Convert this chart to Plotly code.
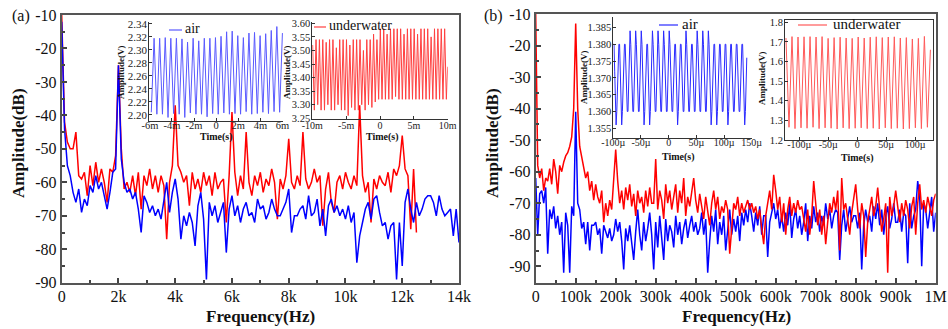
import plotly.graph_objects as go

W, H = 948, 329
FONT = "Liberation Serif"

# ---------------- Panel (a): spectra, 100 Hz bins ----------------
A_STEP_HZ = 100
A_UNDERWATER_DB = [
    -10, -42, -48, -50, -50, -45, -58, -59, -57, -64,
    -55, -61, -54, -60, -56, -60, -66, -56, -57, -52,
    -25, -50, -62, -60, -63, -58, -64, -57, -68, -58,
    -61, -56, -62, -58, -63, -58, -61, -77, -60, -55,
    -37, -55, -57, -60, -58, -67, -57, -62, -59, -63,
    -57, -61, -58, -64, -57, -62, -60, -59, -72, -58,
    -39, -57, -64, -58, -62, -45, -60, -64, -58, -61,
    -57, -63, -59, -61, -56, -60, -71, -59, -62, -58,
    -47, -60, -62, -58, -61, -45, -59, -62, -60, -56,
    -60, -58, -73, -62, -57, -66, -69, -60, -58, -62,
    -57, -60, -62, -58, -61, -37, -58, -63, -60, -72,
    -59, -62, -58, -60, -61, -57, -63, -56, -58, -55,
    -46, -56, -58, -74, -56, -75,
]
A_AIR_DB = [
    -12, -44, -55, -58, -63, -66, -62, -69, -65, -67,
    -61, -63, -58, -62, -60, -64, -68, -63, -57, -56,
    -25, -53, -60, -63, -62, -65, -63, -68, -75, -64,
    -66, -69, -67, -70, -68, -71, -66, -60, -69, -63,
    -59, -65, -77, -70, -73, -69, -72, -79, -67, -63,
    -71, -89, -66, -70, -67, -72, -69, -66, -81, -68,
    -64, -70, -67, -72, -68, -66, -70, -69, -72, -65,
    -68, -67, -71, -69, -65, -68, -70, -70, -68, -66,
    -62, -75, -70, -70, -68, -67, -71, -64, -70, -69,
    -65, -73, -68, -76, -67, -65, -69, -67, -70, -68,
    -71, -67, -72, -69, -84, -76, -72, -68, -66, -71,
    -65, -64, -69, -73, -72, -77, -73, -72, -89, -72,
    -85, -66, -62, -68, -72, -66, -70, -68, -65, -64,
    -64, -66, -70, -64, -68, -70, -69, -68, -76, -68, -78,
]
A_XTICKS = [0, 2000, 4000, 6000, 8000, 10000, 12000, 14000]
A_XTICKTEXT = ["0", "2k", "4k", "6k", "8k", "10k", "12k", "14k"]
A_YTICKS = [-10, -20, -30, -40, -50, -60, -70, -80, -90]

# ---------------- Panel (b): spectra, 5 kHz bins ----------------
B_STEP_HZ = 5000
B_UNDERWATER_DB = [
    -10, -58, -62, -59, -66, -62, -63, -59, -64, -56,
    -60, -67, -58, -60, -57, -55, -54, -52, -49, -40,
    -13, -40, -52, -55, -58, -62, -60, -66, -63, -69,
    -64, -68, -70, -66, -76, -70, -74, -69, -72, -63,
    -53, -63, -70, -66, -72, -65, -69, -64, -71, -67,
    -74, -66, -70, -68, -73, -66, -71, -65, -70, -70,
    -56, -72, -66, -69, -75, -64, -70, -66, -72, -68,
    -64, -73, -66, -70, -62, -74, -68, -71, -66, -62,
    -69, -73, -67, -71, -75, -68, -72, -77, -70, -66,
    -72, -68, -75, -71, -73, -69, -72, -86, -78, -70,
    -72, -68, -74, -70, -73, -71, -69, -72, -70, -73,
    -71, -75, -72, -78, -83, -74, -70, -66, -72, -61,
    -66, -72, -68, -76, -70, -80, -72, -68, -74, -70,
    -73, -69, -72, -71, -75, -79, -72, -80, -74, -63,
    -70, -77, -72, -80, -74, -83, -76, -70, -73, -68,
    -72, -66, -85, -62, -72, -70, -75, -80, -73, -68,
    -64, -72, -78, -70, -74, -87, -76, -72, -68, -74,
    -71, -65, -72, -79, -75, -70, -92, -68, -74, -71,
    -66, -72, -76, -70, -74, -69, -72, -78, -71, -68,
    -80, -70, -64, -72, -69, -73, -68, -71, -74, -69, -67,
]
B_AIR_DB = [
    -62, -80, -67, -66, -70, -65, -86, -72, -75, -71,
    -78, -74, -80, -76, -92, -73, -77, -92, -71, -74,
    -41, -70, -72, -78, -76, -83, -76, -85, -77, -77,
    -76, -80, -78, -86, -77, -79, -81, -78, -82, -80,
    -75, -79, -76, -82, -91, -78, -82, -77, -83, -88,
    -79, -72, -80, -85, -76, -82, -78, -73, -80, -91,
    -76, -84, -74, -80, -88, -75, -82, -77, -79, -84,
    -74, -80, -76, -83, -78, -75, -81, -77, -74, -79,
    -76, -80, -78, -73, -80, -75, -92, -82, -74, -79,
    -72, -83, -76, -80, -74, -85, -77, -72, -80, -75,
    -79, -74, -82, -73, -77, -72, -76, -70, -74, -79,
    -73, -77, -71, -80, -74, -74, -87, -76, -73, -70,
    -75, -72, -78, -74, -79, -73, -77, -70, -81, -75,
    -72, -78, -74, -80, -76, -70, -82, -74, -78, -71,
    -76, -73, -79, -74, -77, -70, -75, -72, -78, -74,
    -72, -73, -88, -77, -72, -79, -75, -71, -76, -74,
    -74, -78, -73, -91, -77, -72, -76, -74, -79, -71,
    -75, -70, -77, -72, -80, -74, -71, -78, -75, -70,
    -76, -76, -72, -79, -73, -74, -89, -70, -78, -74,
    -72, -63, -68, -90, -70, -72, -78, -72, -68, -79, -73,
]
B_XTICKS = [0, 100e3, 200e3, 300e3, 400e3, 500e3, 600e3, 700e3, 800e3, 900e3, 1e6]
B_XTICKTEXT = ["0", "100k", "200k", "300k", "400k", "500k", "600k", "700k", "800k", "900k", "1M"]
B_YTICKS = [-10, -20, -30, -40, -50, -60, -70, -80, -90]

# ---------------- Inset waveforms (turning points) ----------------
# (a) air: trough/peak pairs, start -5.87 ms, half period 0.2525 ms
A_AIR_T0, A_AIR_HALF = -5.87e-3, 0.2525e-3
A_AIR_TROUGHS = [2.204, 2.201, 2.201, 2.196, 2.202, 2.201, 2.196, 2.203, 2.201, 2.201, 2.197, 2.202,
                 2.201, 2.203, 2.201, 2.202, 2.201, 2.205, 2.201, 2.202, 2.204, 2.202, 2.205, 2.204]
A_AIR_PEAKS = [2.318, 2.318, 2.319, 2.318, 2.318, 2.317, 2.312, 2.318, 2.314, 2.318, 2.318, 2.319,
               2.321, 2.328, 2.329, 2.322, 2.319, 2.326, 2.327, 2.322, 2.325, 2.330, 2.336, 2.326]
# (a) underwater: peak/trough pairs, start -9.95 ms, half period 0.25 ms
A_UW_T0, A_UW_HALF = -9.95e-3, 0.25e-3
A_UW_PEAKS = [3.52, 3.54, 3.54, 3.54, 3.53, 3.54, 3.54, 3.51, 3.54, 3.54, 3.54, 3.52, 3.54, 3.54,
              3.54, 3.50, 3.54, 3.54, 3.56, 3.54, 3.58, 3.58, 3.56, 3.58, 3.58, 3.58, 3.58, 3.56,
              3.58, 3.58, 3.58, 3.56, 3.58, 3.58, 3.58, 3.55, 3.58, 3.58, 3.58, 3.58]
A_UW_TROUGHS = [3.28, 3.30, 3.28, 3.28, 3.30, 3.28, 3.28, 3.30, 3.28, 3.28, 3.26, 3.29, 3.28, 3.28,
                3.30, 3.28, 3.30, 3.29, 3.31, 3.32, 3.32, 3.32, 3.32, 3.32, 3.33, 3.32, 3.32, 3.32,
                3.32, 3.32, 3.32, 3.32, 3.32, 3.32, 3.32, 3.32, 3.32, 3.32, 3.32, 3.32]
A_UW_END = 3.44
# (b) air: quantised cycles, start -100 us, period 10.1 us
B_AIR_T0, B_AIR_PERIOD = -100e-6, 10.1e-6
B_AIR_PEAKS = [1.380, 1.380, 1.380, 1.384, 1.384, 1.384, 1.380, 1.384, 1.384, 1.384, 1.384, 1.380,
               1.380, 1.384, 1.380, 1.384, 1.384, 1.384, 1.380, 1.380, 1.380, 1.380, 1.380, 1.380]
B_AIR_TROUGHS = [1.356, 1.356, 1.360, 1.360, 1.360, 1.356, 1.356, 1.360, 1.360, 1.360, 1.360, 1.356,
                 1.360, 1.360, 1.360, 1.360, 1.360, 1.356, 1.356, 1.360, 1.356, 1.360, 1.360, 1.356]
B_AIR_STEPS_DOWN = [1.380, 1.372, 1.364]
B_AIR_STEPS_UP = [1.360, 1.368, 1.376]
# (b) underwater: peak/trough pairs, start -123 us, half period 5.2 us
B_UW_T0, B_UW_HALF = -123e-6, 5.2e-6
B_UW_PEAKS = [1.720, 1.727, 1.725, 1.726, 1.727, 1.725, 1.727, 1.718, 1.722, 1.724, 1.720, 1.718,
              1.725, 1.720, 1.724, 1.726, 1.722, 1.725, 1.726, 1.720, 1.722, 1.715, 1.718, 1.728]
B_UW_TROUGHS = [1.265, 1.258, 1.262, 1.260, 1.265, 1.258, 1.262, 1.260, 1.256, 1.262, 1.258, 1.260,
                1.262, 1.258, 1.260, 1.256, 1.262, 1.258, 1.260, 1.256, 1.258, 1.262, 1.258, 1.265]
B_UW_END = 1.66


def px(x):
    return x / W


def py(y):
    return 1 - y / H


fig = go.Figure()

# main spectra
a_f = [i * A_STEP_HZ for i in range(len(A_AIR_DB))]
a_fu = [i * A_STEP_HZ for i in range(len(A_UNDERWATER_DB))]
b_f = [i * B_STEP_HZ for i in range(len(B_AIR_DB))]
b_fu = [i * B_STEP_HZ for i in range(len(B_UNDERWATER_DB))]
fig.add_trace(go.Scatter(x=a_fu, y=A_UNDERWATER_DB, xaxis="x", yaxis="y", mode="lines",
                         line=dict(color="#ff0000", width=1.5)))
fig.add_trace(go.Scatter(x=a_f, y=A_AIR_DB, xaxis="x", yaxis="y", mode="lines",
                         line=dict(color="#0000ff", width=1.5)))
fig.add_trace(go.Scatter(x=b_f, y=B_AIR_DB, xaxis="x2", yaxis="y2", mode="lines",
                         line=dict(color="#0000ff", width=1.5)))
fig.add_trace(go.Scatter(x=b_fu, y=B_UNDERWATER_DB, xaxis="x2", yaxis="y2", mode="lines",
                         line=dict(color="#ff0000", width=1.5)))

# inset (a) air
tx, ty = [], []
for i, (tr, pk) in enumerate(zip(A_AIR_TROUGHS, A_AIR_PEAKS)):
    tx += [A_AIR_T0 + 2 * i * A_AIR_HALF, A_AIR_T0 + (2 * i + 1) * A_AIR_HALF]
    ty += [tr, pk]
fig.add_trace(go.Scatter(x=tx, y=ty, xaxis="x3", yaxis="y3", mode="lines",
                         line=dict(color="#5a5aff", width=1)))
# inset (a) underwater
tx, ty = [], []
for i, (pk, tr) in enumerate(zip(A_UW_PEAKS, A_UW_TROUGHS)):
    tx += [A_UW_T0 + 2 * i * A_UW_HALF, A_UW_T0 + (2 * i + 1) * A_UW_HALF]
    ty += [pk, tr]
tx.append(10e-3)
ty.append(A_UW_END)
fig.add_trace(go.Scatter(x=tx, y=ty, xaxis="x4", yaxis="y4", mode="lines",
                         line=dict(color="#ff4040", width=1)))
# inset (b) air
tx, ty = [], []
for i, (pk, tr) in enumerate(zip(B_AIR_PEAKS, B_AIR_TROUGHS)):
    seq = [pk] + B_AIR_STEPS_DOWN + [tr] + B_AIR_STEPS_UP
    for k, v in enumerate(seq):
        tx.append(B_AIR_T0 + i * B_AIR_PERIOD + k * B_AIR_PERIOD / len(seq))
        ty.append(v)
fig.add_trace(go.Scatter(x=tx, y=ty, xaxis="x5", yaxis="y5", mode="lines",
                         line=dict(color="#2a2aff", width=1)))
# inset (b) underwater
tx, ty = [], []
for i, (pk, tr) in enumerate(zip(B_UW_PEAKS, B_UW_TROUGHS)):
    tx += [B_UW_T0 + 2 * i * B_UW_HALF, B_UW_T0 + (2 * i + 1) * B_UW_HALF]
    ty += [pk, tr]
tx.append(tx[-1] + B_UW_HALF)
ty.append(B_UW_END)
fig.add_trace(go.Scatter(x=tx, y=ty, xaxis="x6", yaxis="y6", mode="lines",
                         line=dict(color="#ff5a5a", width=1)))

main_tick = dict(family=FONT, size=16, color="#111")
frame = dict(showline=True, mirror=True, linecolor="#555", linewidth=2, ticks="inside",
             ticklen=5, tickwidth=1.5, tickcolor="#444", showgrid=False, zeroline=False,
             tickfont=main_tick, automargin=False)

layout = dict(
    template="none",
    width=W, height=H, margin=dict(l=0, r=0, t=0, b=0, pad=0), autosize=False,
    paper_bgcolor="white", plot_bgcolor="rgba(0,0,0,0)", showlegend=False,
    font=dict(family=FONT, color="#111"),
    xaxis=dict(domain=[px(61.7), px(459)], range=[0, 14000], anchor="y",
               tickvals=A_XTICKS, ticktext=A_XTICKTEXT, ticklabelstandoff=-2,
               minor=dict(ticks="inside", ticklen=3, dtick=1000, tickcolor="#444"), **frame),
    yaxis=dict(domain=[py(282.7), py(15)], range=[-90, -10], anchor="x",
               tickvals=A_YTICKS, ticktext=[str(v) for v in A_YTICKS],
               minor=dict(ticks="inside", ticklen=3, dtick=5, tickcolor="#444"), **frame),
    xaxis2=dict(domain=[px(535.7), px(935.7)], range=[0, 1e6], anchor="y2",
                tickvals=B_XTICKS, ticktext=B_XTICKTEXT, ticklabelstandoff=-2,
                minor=dict(ticks="inside", ticklen=3, dtick=50e3, tickcolor="#444"), **frame),
    yaxis2=dict(domain=[py(282.7), py(14)], range=[-95.2, -10], anchor="x2",
                tickvals=B_YTICKS, ticktext=[str(v) for v in B_YTICKS],
                minor=dict(ticks="inside", ticklen=3, dtick=5, tickcolor="#444"), **frame),
)

inset_common = dict(showline=True, linecolor="#333", linewidth=1, ticks="inside", ticklen=3,
                    tickcolor="#333", showgrid=False, zeroline=False, automargin=False)


def inset(xdom, xr, xt, xtt, ydom, yr, yt, ytt, fsize, mirror, xstand=-5):
    xa = dict(domain=xdom, range=xr, tickvals=xt, ticktext=xtt, mirror=mirror, ticklabelstandoff=xstand,
              tickfont=dict(family=FONT, size=fsize - 0.5, color="#222"), **inset_common)
    ya = dict(domain=ydom, range=yr, tickvals=yt, ticktext=ytt, mirror=mirror, ticklabelstandoff=-1,
              tickfont=dict(family=FONT, size=fsize, color="#222"), **inset_common)
    return xa, ya


# inset a1
a1y = [2.20, 2.22, 2.24, 2.26, 2.28, 2.30, 2.32, 2.34]
xa, ya = inset([px(149.3), px(283)], [-6.05e-3, 6.05e-3],
               [-6e-3, -4e-3, -2e-3, 0, 2e-3, 4e-3, 6e-3], ["-6m", "-4m", "-2m", "0", "2m", "4m", "6m"],
               [py(120.7), py(21.7)], [2.191, 2.3435], a1y, ["%.2f" % v for v in a1y], 11, False)
layout["xaxis3"] = dict(anchor="y3", **xa)
layout["yaxis3"] = dict(anchor="x3", **ya)
# inset a2
a2y = [3.25, 3.30, 3.35, 3.40, 3.45, 3.50, 3.55, 3.60]
xa, ya = inset([px(312.3), px(447.7)], [-10e-3, 10e-3],
               [-10e-3, -5e-3, 0, 5e-3, 10e-3], ["-10m", "-5m", "0", "5m", "10m"],
               [py(119), py(21.7)], [3.2474, 3.606], a2y, ["%.2f" % v for v in a2y], 10.5, False, xstand=-3)
layout["xaxis4"] = dict(anchor="y4", **xa)
layout["yaxis4"] = dict(anchor="x4", **ya)
# inset b1
b1y = [1.355, 1.360, 1.365, 1.370, 1.375, 1.380, 1.385]
xa, ya = inset([px(613.3), px(751.7)], [-100e-6, 150e-6],
               [-100e-6, -50e-6, 0, 50e-6, 100e-6, 150e-6], ["-100\u00b5", "-50\u00b5", "0", "50\u00b5", "100\u00b5", "150\u00b5"],
               [py(137.7), py(16.7)], [1.3522, 1.3882], b1y, ["%.3f" % v for v in b1y], 10.5, False)
layout["xaxis5"] = dict(anchor="y5", **xa)
layout["yaxis5"] = dict(anchor="x5", **ya)
# inset b2
b2y = [1.2, 1.3, 1.4, 1.5, 1.6, 1.7, 1.8]
xa, ya = inset([px(785), px(933.3)], [-124.7e-6, 131.6e-6],
               [-100e-6, -50e-6, 0, 50e-6, 100e-6], ["-100\u00b5", "-50\u00b5", "0", "50\u00b5", "100\u00b5"],
               [py(140), py(20)], [1.2, 1.8117], b2y, ["%.1f" % v for v in b2y], 10.5, True)
layout["xaxis6"] = dict(anchor="y6", **xa)
layout["yaxis6"] = dict(anchor="x6", **ya)

fig.update_layout(**layout)

ann = []


def text(x, y, s, size, bold=False, angle=0, xanchor="center"):
    ann.append(dict(x=px(x), y=py(y), xref="paper", yref="paper", text=("<b>%s</b>" % s) if bold else s,
                    showarrow=False, textangle=angle, xanchor=xanchor, yanchor="middle",
                    font=dict(family=FONT, size=size, color="#111")))


# main titles
text(260, 316, "Frequency(Hz)", 17, bold=True)
text(736, 316, "Frequency(Hz)", 17, bold=True)
text(18, 143, "Amplitude(dB)", 17, bold=True, angle=-90)
text(492, 143, "Amplitude(dB)", 17, bold=True, angle=-90)
text(21, 16, "(a)", 16)
text(493, 16, "(b)", 16)
# inset titles
text(216, 137, "Time(s)", 10, bold=True)
text(382, 137, "Time(s)", 10, bold=True)
text(678, 157, "Time(s)", 10, bold=True)
text(857, 158, "Time(s)", 10, bold=True)
text(121, 72, "Amplitude(V)", 9, bold=True, angle=-90)
text(287, 72, "Amplitude(V)", 9, bold=True, angle=-90)
text(584, 77, "Amplitude(V)", 9, bold=True, angle=-90)
text(762, 78, "Amplitude(V)", 9, bold=True, angle=-90)
# inset legends
text(183, 29, "air", 14, xanchor="left")
text(327, 26, "underwater", 14, xanchor="left")
text(680, 24, "air", 15, xanchor="left")
text(831, 24, "underwater", 15, xanchor="left")

shapes = [
    dict(type="line", xref="paper", yref="paper", x0=px(169), x1=px(182), y0=py(30), y1=py(30),
         line=dict(color="#5a5aff", width=1.2)),
    dict(type="line", xref="paper", yref="paper", x0=px(314), x1=px(326), y0=py(27), y1=py(27),
         line=dict(color="#ff4040", width=1.2)),
    dict(type="line", xref="paper", yref="paper", x0=px(659), x1=px(678), y0=py(25), y1=py(25),
         line=dict(color="#2a2aff", width=1.2)),
    dict(type="line", xref="paper", yref="paper", x0=px(798), x1=px(827), y0=py(25), y1=py(25),
         line=dict(color="#ff5a5a", width=1.2)),
]
fig.update_layout(annotations=ann, shapes=shapes)

fig.write_html("out.html", config={"displayModeBar": False},
               post_script="document.body.style.margin='0px';document.body.style.padding='0px';")
